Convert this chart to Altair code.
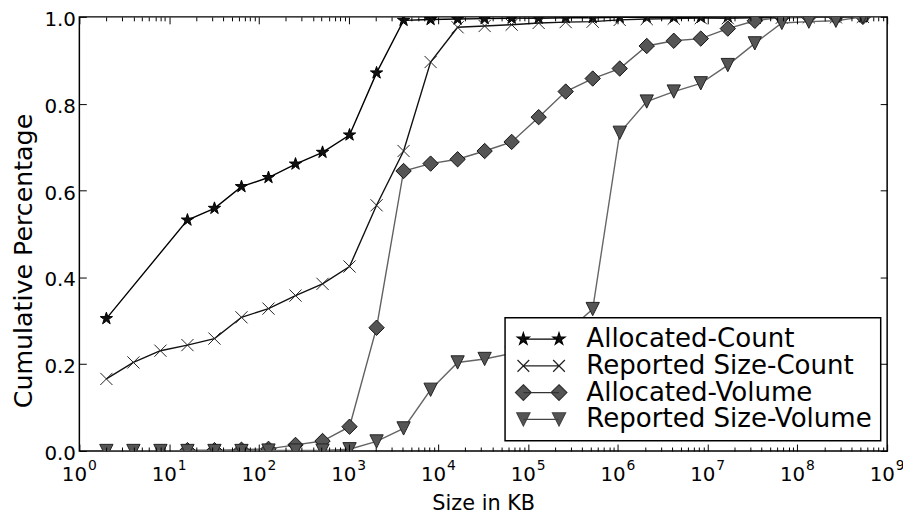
import altair as alt
import pandas as pd

# ---------------- data ----------------
SIZES_KB = [2, 4, 8, 16, 32, 64, 128, 256, 512, 1024, 2048, 4096, 8192, 16384,
            32768, 65536, 131072, 262144, 524288, 1048576, 2097152, 4194304,
            8388608, 16777216, 33554432, 67108864, 134217728, 268435456, 536870912]

SERIES = ["Allocated-Count", "Reported Size-Count", "Allocated-Volume", "Reported Size-Volume"]

ALLOC_COUNT_X = [2] + SIZES_KB[3:]
ALLOC_COUNT_Y = [0.305, 0.532, 0.559, 0.609, 0.630, 0.661, 0.688, 0.728, 0.871, 0.992,
                 0.994, 0.995, 0.996, 0.997, 0.997, 0.998, 0.998, 0.999, 0.999, 0.999,
                 0.999, 1.0, 1.0, 1.0, 1.0, 1.0, 1.0]

REPORTED_COUNT_X = SIZES_KB
REPORTED_COUNT_Y = [0.166, 0.204, 0.231, 0.244, 0.259, 0.308, 0.328, 0.358, 0.385, 0.425,
                    0.566, 0.691, 0.896, 0.976, 0.979, 0.982, 0.986, 0.988, 0.989, 0.993,
                    0.995, 0.996, 0.997, 0.997, 0.998, 0.998, 0.999, 0.999, 1.0]

ALLOC_VOLUME_X = SIZES_KB[3:]
ALLOC_VOLUME_Y = [0.002, 0.002, 0.003, 0.005, 0.014, 0.023, 0.056, 0.284, 0.645, 0.662,
                  0.672, 0.691, 0.712, 0.769, 0.828, 0.858, 0.881, 0.933, 0.945, 0.950,
                  0.973, 0.991, 0.999, 1.0, 1.0, 1.0]

REPORTED_VOLUME_X = SIZES_KB
REPORTED_VOLUME_Y = [0.0, 0.0, 0.0, 0.0, 0.0, 0.0, 0.001, 0.001, 0.001, 0.004,
                     0.022, 0.052, 0.141, 0.204, 0.212, 0.225, 0.245, 0.272, 0.327, 0.733,
                     0.805, 0.828, 0.847, 0.889, 0.939, 0.986, 0.989, 0.991, 1.0]

X_DECADE_EXPONENTS = [0, 1, 2, 3, 4, 5, 6, 7, 8, 9]
X_MINOR_MULTIPLES = [2, 3, 4, 5, 6, 7, 8, 9]
Y_TICKS = [0.0, 0.2, 0.4, 0.6, 0.8, 1.0]

X_TITLE = "Size in KB"
Y_TITLE = "Cumulative Percentage"

# ---------------- table ----------------
rows = []
for name, xs, ys in zip(SERIES,
                        [ALLOC_COUNT_X, REPORTED_COUNT_X, ALLOC_VOLUME_X, REPORTED_VOLUME_X],
                        [ALLOC_COUNT_Y, REPORTED_COUNT_Y, ALLOC_VOLUME_Y, REPORTED_VOLUME_Y]):
    for x, y in zip(xs, ys):
        rows.append({"series": name, "size": x, "frac": y})
df = pd.DataFrame(rows)

DECADES = [10 ** e for e in X_DECADE_EXPONENTS]
MINORS = [m * 10 ** e for e in X_DECADE_EXPONENTS[:-1] for m in X_MINOR_MULTIPLES]

# ---------------- marker paths ----------------
STAR = [(0, -1), (0.2245, -0.309), (0.951, -0.309), (0.363, 0.118), (0.588, 0.809),
        (0, 0.382), (-0.588, 0.809), (-0.363, 0.118), (-0.951, -0.309), (-0.2245, -0.309)]
DIAMOND = [(0, -1), (1, 0), (0, 1), (-1, 0)]
TRI_DOWN = [(-1, -1), (1, -1), (0, 1)]


def poly(pts, cx=0.0, cy=0.0, r=1.0):
    return "M" + "L".join(f"{cx + x * r:.4f},{cy + y * r:.4f}" for x, y in pts) + "Z"


def xmark(cx=0.0, cy=0.0, r=1.0):
    return (f"M{cx - r:.4f},{cy - r:.4f}L{cx + r:.4f},{cy + r:.4f}"
            f"M{cx - r:.4f},{cy + r:.4f}L{cx + r:.4f},{cy - r:.4f}")


# legend glyph: line with a marker at each end (units of sqrt(symbolSize)/2)
LEG_A, LEG_B = -0.237, 2.564


def legend_path(kind, r):
    p = f"M{LEG_A},0L{LEG_B},0"
    for cx in (LEG_A, LEG_B):
        p += xmark(cx, 0, r) if kind == "x" else poly(kind, cx, 0, r)
    return p


STYLE = {
    "Allocated-Count": dict(shape=poly(STAR), size=170, filled=True, fill="#111111",
                            stroke="#000000", line="#000000"),
    "Reported Size-Count": dict(shape=xmark(), size=150, filled=False, fill="transparent",
                                stroke="#222222", line="#111111"),
    "Allocated-Volume": dict(shape=poly(DIAMOND), size=240, filled=True, fill="#555555",
                             stroke="#111111", line="#606060"),
    "Reported Size-Volume": dict(shape=poly(TRI_DOWN), size=180, filled=True, fill="#555555",
                                 stroke="#222222", line="#666666"),
}
LEGEND_PATHS = [legend_path(STAR, 0.5), legend_path("x", 0.46),
                legend_path(DIAMOND, 0.62), legend_path(TRI_DOWN, 0.52)]
LEGEND_FILLS = ["#111111", "transparent", "#555555", "#555555"]
LEGEND_STROKES = ["#000000", "#222222", "#333333", "#444444"]

PLOT_W, PLOT_H = 815, 438
FONT = "DejaVu Sans"

x_scale = alt.Scale(type="log", domain=[1, 1e9], nice=False)
y_scale = alt.Scale(domain=[0, 1], nice=False, zero=False)

common = dict(grid=False, domain=False, labelFlush=False, labelOverlap=False, title=None)

X_AXES = [
    # "10" part of labels + title
    alt.Axis(orient="bottom", values=DECADES, labelExpr="'10'", labelAlign="right",
             labelOffset=7.3, labelBaseline="alphabetic", labelPadding=30, ticks=False,
             tickSize=0, labelFontSize=20, grid=False, domain=False, labelFlush=False,
             labelOverlap=False, title=X_TITLE, titleFontSize=21, titleFontWeight="normal",
             titleX=PLOT_W / 2, titleY=59, titleBaseline="alphabetic", titleAlign="center"),
    # exponent part
    alt.Axis(orient="bottom", values=DECADES, labelExpr="'' + round(log(datum.value) / LN10)",
             labelAlign="left", labelOffset=8.3, labelBaseline="alphabetic", labelPadding=19,
             ticks=False, tickSize=0, labelFontSize=14, **common),
    # inward ticks
    alt.Axis(orient="top", offset=-PLOT_H, values=DECADES, labels=False, ticks=True,
             tickSize=7, zindex=1, **common),
    alt.Axis(orient="bottom", offset=-PLOT_H, values=DECADES, labels=False, ticks=True,
             tickSize=7, zindex=1, **common),
    alt.Axis(orient="top", offset=-PLOT_H, values=MINORS, labels=False, ticks=True,
             tickSize=4, zindex=1, **common),
    alt.Axis(orient="bottom", offset=-PLOT_H, values=MINORS, labels=False, ticks=True,
             tickSize=4, zindex=1, **common),
]
Y_AXES = [
    alt.Axis(orient="left", values=Y_TICKS, format=".1f", labelPadding=4, ticks=False,
             tickSize=0, labelFontSize=20, labelBaseline="alphabetic", labelOffset=8.6,
             grid=False, domain=False, labelFlush=False,
             title=Y_TITLE, titleFontSize=25.5, titleFontWeight="normal", titleAngle=270,
             titleX=-48.3, titleY=245.8, titleBaseline="alphabetic", titleAlign="center"),
    alt.Axis(orient="right", offset=-PLOT_W, values=Y_TICKS, labels=False, ticks=True,
             tickSize=7, zindex=1, **common),
    alt.Axis(orient="left", offset=-PLOT_W, values=Y_TICKS, labels=False, ticks=True,
             tickSize=7, zindex=1, **common),
]

layers = []
i = 0
for name in SERIES:
    st = STYLE[name]
    base = alt.Chart(df).transform_filter(alt.datum.series == name)
    for kind in ("line", "points"):
        xa = X_AXES[i] if i < len(X_AXES) else None
        ya = Y_AXES[i] if i < len(Y_AXES) else None
        enc = dict(
            x=alt.X("size:Q", scale=x_scale, axis=xa),
            y=alt.Y("frac:Q", scale=y_scale, axis=ya),
        )
        if kind == "line":
            layer = base.mark_line(color=st["line"], strokeWidth=1.4, clip=True).encode(
                order="size:Q", **enc)
        else:
            layer = base.mark_point(shape=st["shape"], size=st["size"], filled=st["filled"],
                                    fill=st["fill"], stroke=st["stroke"], strokeWidth=1,
                                    opacity=1, clip=True).encode(**enc)
        layers.append(layer)
        i += 1

LEG = alt.Legend(orient="none", legendX=429.5, legendY=303.6, title=None,
                 labelFont=FONT, labelFontSize=26.3, labelColor="black", labelLimit=0,
                 labelOffset=47, symbolSize=660, symbolStrokeWidth=1.2, symbolOpacity=1,
                 padding=8, rowPadding=0, strokeColor="black", fillColor="white",
                 cornerRadius=0, zindex=2)

legend_layer = alt.Chart(df).mark_point(opacity=0).encode(
    x=alt.X("size:Q", scale=x_scale, axis=None),
    y=alt.Y("frac:Q", scale=y_scale, axis=None),
    shape=alt.Shape("series:N", scale=alt.Scale(domain=SERIES, range=LEGEND_PATHS), legend=LEG),
    fill=alt.Fill("series:N", scale=alt.Scale(domain=SERIES, range=LEGEND_FILLS), legend=LEG),
    stroke=alt.Stroke("series:N", scale=alt.Scale(domain=SERIES, range=LEGEND_STROKES), legend=LEG),
)
layers.append(legend_layer)

chart = (
    alt.layer(*layers)
    .resolve_axis(x="independent", y="independent")
    .properties(width=PLOT_W, height=PLOT_H,
                autosize=alt.AutoSizeParams(type="none"),
                padding={"left": 72, "top": 6.7, "right": 16, "bottom": 62})
    .configure_view(stroke="black", strokeWidth=1.5)
    .configure_axis(labelFont=FONT, titleFont=FONT, labelColor="black", titleColor="black",
                    tickColor="black", tickWidth=1)
    .configure_legend(strokeWidth=1.5)
)

chart.save("out.html", embed_options={"renderer": "svg", "actions": False})
